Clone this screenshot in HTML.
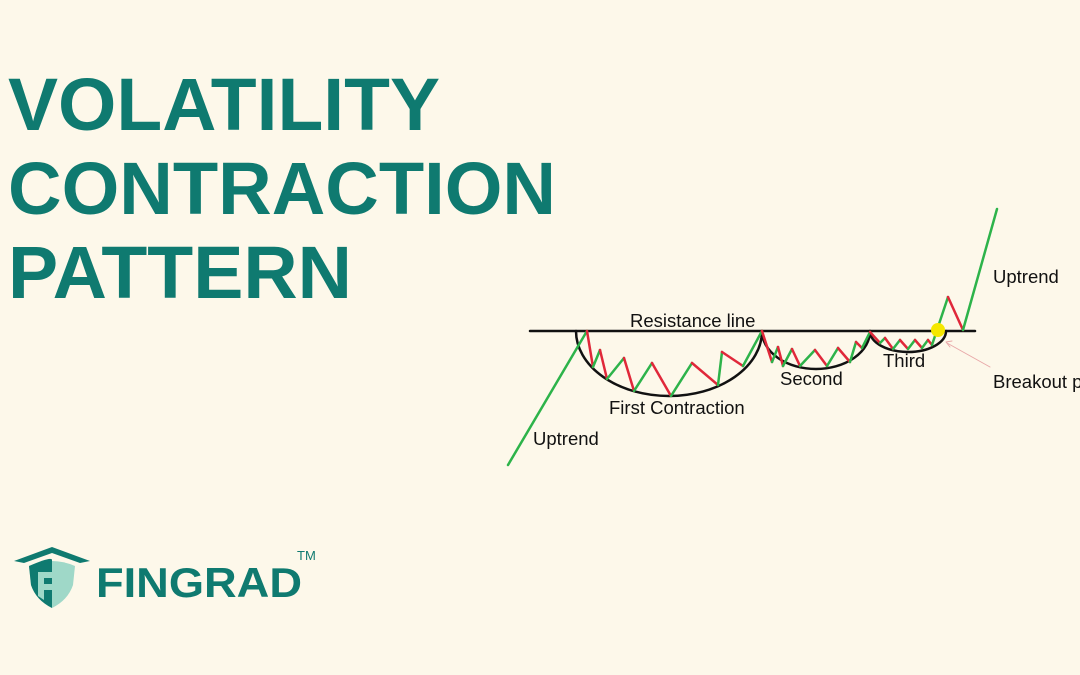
<!DOCTYPE html>
<html><head><meta charset="utf-8"><style>
html,body{margin:0;padding:0;background:#fdf8ea;}
svg{display:block}
</style></head><body>
<svg width="1080" height="675" viewBox="0 0 1080 675" xmlns="http://www.w3.org/2000/svg">
<rect width="1080" height="675" fill="#fdf8ea"/>
<g font-family="Liberation Sans, sans-serif" font-weight="bold" fill="#0f7a70" font-size="74">
<text x="8" y="130" textLength="432" lengthAdjust="spacingAndGlyphs">VOLATILITY</text>
<text x="8" y="214" textLength="548" lengthAdjust="spacingAndGlyphs">CONTRACTION</text>
<text x="8" y="298" textLength="344" lengthAdjust="spacingAndGlyphs">PATTERN</text>
</g>
<g fill="none" stroke-linecap="round" stroke-linejoin="round">
<line x1="530" y1="331" x2="975" y2="331" stroke="#111" stroke-width="2.5"/>
<path d="M576,331 A93,65 0 0 0 762,331" stroke="#111" stroke-width="2.5"/>
<path d="M762,331 A54,38 0 0 0 870,331" stroke="#111" stroke-width="2.5"/>
<path d="M870,331 A38,21 0 0 0 946,331" stroke="#111" stroke-width="2.5"/>
<g stroke-width="2.5">
<line x1="508" y1="465" x2="587" y2="331" stroke="#2db34a"/>
<polyline points="587,331 593,367" stroke="#e0283a"/>
<polyline points="593,367 600,350" stroke="#2db34a"/>
<polyline points="600,350 607,379" stroke="#e0283a"/>
<polyline points="607,379 624,358" stroke="#2db34a"/>
<polyline points="624,358 634,391" stroke="#e0283a"/>
<polyline points="634,391 652,363" stroke="#2db34a"/>
<polyline points="652,363 671,396" stroke="#e0283a"/>
<polyline points="671,396 692,363" stroke="#2db34a"/>
<polyline points="692,363 718,385" stroke="#e0283a"/>
<polyline points="718,385 722,352" stroke="#2db34a"/>
<polyline points="722,352 743,366" stroke="#e0283a"/>
<polyline points="743,366 762,331" stroke="#2db34a"/>
<polyline points="762,331 772,362" stroke="#e0283a"/>
<polyline points="772,362 778,347" stroke="#2db34a"/>
<polyline points="778,347 783,366" stroke="#e0283a"/>
<polyline points="783,366 792,349" stroke="#2db34a"/>
<polyline points="792,349 800,366" stroke="#e0283a"/>
<polyline points="800,366 815,350" stroke="#2db34a"/>
<polyline points="815,350 827,366" stroke="#e0283a"/>
<polyline points="827,366 838,348" stroke="#2db34a"/>
<polyline points="838,348 850,362" stroke="#e0283a"/>
<polyline points="850,362 856,342" stroke="#2db34a"/>
<polyline points="856,342 862,348" stroke="#e0283a"/>
<polyline points="862,348 870,332" stroke="#2db34a"/>
<polyline points="870,332 880,343" stroke="#e0283a"/>
<polyline points="880,343 885,338" stroke="#2db34a"/>
<polyline points="885,338 893,349" stroke="#e0283a"/>
<polyline points="893,349 900,340" stroke="#2db34a"/>
<polyline points="900,340 908,349" stroke="#e0283a"/>
<polyline points="908,349 915,340" stroke="#2db34a"/>
<polyline points="915,340 922,348" stroke="#e0283a"/>
<polyline points="922,348 928,340" stroke="#2db34a"/>
<polyline points="928,340 932,345" stroke="#e0283a"/>
<polyline points="932,345 948,297" stroke="#2db34a"/>
<polyline points="948,297 963,330" stroke="#e0283a"/>
<polyline points="963,330 997,209" stroke="#2db34a"/>
</g>
<line x1="990" y1="367" x2="947" y2="343" stroke="#e8a8a8" stroke-width="1"/>
<polyline points="952,341 946,342 950,347" stroke="#e8a8a8" stroke-width="1"/>
</g>
<circle cx="938" cy="330" r="7" fill="#f5e700"/>
<g font-family="Liberation Sans, sans-serif" font-size="18.5" fill="#111">
<text x="630" y="327">Resistance line</text>
<text x="609" y="414">First Contraction</text>
<text x="780" y="385">Second</text>
<text x="883" y="367">Third</text>
<text x="533" y="445">Uptrend</text>
<text x="993" y="283">Uptrend</text>
<text x="993" y="388">Breakout point</text>
</g>
<g>
<path d="M14,561 L52,547 L90,561 L80,563 L52,553 L24,563 Z" fill="#0f7a70"/>
<path d="M29,566 Q52,556 75,566 L73,585 Q68,600 52,608 Q36,600 31,585 Z" fill="#9fd8c8"/>
<path d="M29,566 Q52,556 52,560 L52,608 Q36,600 31,585 Z" fill="#0f7a70"/>
<path d="M38,572 L56,572 L56,578 L44,578 L44,584 L54,584 L54,590 L44,590 L44,600 L38,596 Z" fill="#9fd8c8"/>
</g>
<text x="96" y="597" font-family="Liberation Sans, sans-serif" font-weight="bold" font-size="42" fill="#0f7a70" textLength="206" lengthAdjust="spacingAndGlyphs">FINGRAD</text>
<text x="297" y="560" font-family="Liberation Sans, sans-serif" font-size="13" fill="#0f7a70">TM</text>
</svg>
</body></html>
